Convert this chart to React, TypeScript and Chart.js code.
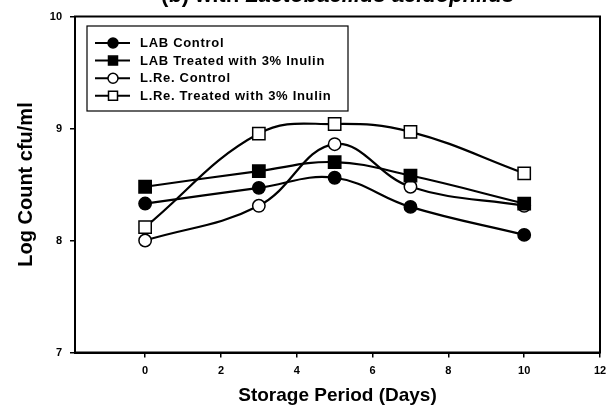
import React, { useEffect, useRef } from "react";
import { Chart, registerables } from "chart.js";
Chart.register(...registerables);

const days = [0, 3, 5, 7, 10];
const labControl = [8.33, 8.47, 8.56, 8.3, 8.05];
const labInulin = [8.48, 8.62, 8.7, 8.58, 8.33];
const lreControl = [8.0, 8.31, 8.86, 8.48, 8.31];
const lreInulin = [8.12, 8.955, 9.04, 8.97, 8.6];
const seriesNames = [
  "LAB Control",
  "LAB Treated with 3% Inulin",
  "L.Re. Control",
  "L.Re. Treated with 3% Inulin",
];
const xTicks = [0, 2, 4, 6, 8, 10, 12];
const yTicks = [7, 8, 9, 10];
const titleA = "(b) with ";
const titleB = "Lactobacillus acidophilus";
const xTitle = "Storage Period (Days)";
const yTitle = "Log Count cfu/ml";

const FONT = "'Liberation Sans', Arial, Helvetica, sans-serif";

type Style = { shape: "circle" | "rect"; fill: string };
const styles: Style[] = [
  { shape: "circle", fill: "#000" },
  { shape: "rect", fill: "#000" },
  { shape: "circle", fill: "#fff" },
  { shape: "rect", fill: "#fff" },
];

function drawMarker(ctx: CanvasRenderingContext2D, s: Style, x: number, y: number, r: number) {
  ctx.beginPath();
  if (s.shape === "circle") ctx.arc(x, y, r, 0, Math.PI * 2);
  else ctx.rect(x - r, y - r, 2 * r, 2 * r);
  ctx.fillStyle = s.fill;
  ctx.fill();
  ctx.lineWidth = 1.5;
  ctx.strokeStyle = "#000";
  ctx.stroke();
}

const framePlugin = {
  id: "frame",
  afterDraw(chart: any) {
    const { ctx, chartArea: a } = chart;
    ctx.save();
    ctx.strokeStyle = "#000";
    ctx.lineWidth = 2;
    ctx.strokeRect(a.left, a.top, a.right - a.left, a.bottom - a.top);
    // title (partially cut at top of the picture)
    ctx.fillStyle = "#000";
    ctx.textBaseline = "alphabetic";
    ctx.font = `bold 22px ${FONT}`;
    const wA = ctx.measureText(titleA).width;
    ctx.font = `italic bold 22px ${FONT}`;
    const wB = ctx.measureText(titleB).width;
    const cx = (a.left + a.right) / 2;
    const x0 = cx - (wA + wB) / 2;
    ctx.font = `bold 22px ${FONT}`;
    ctx.fillText(titleA, x0, 2);
    ctx.font = `italic bold 22px ${FONT}`;
    ctx.fillText(titleB, x0 + wA, 2);
    // legend
    const bx = a.left + 12;
    const by = a.top + 9.5;
    const bw = 261;
    const bh = 85;
    ctx.lineWidth = 1.2;
    ctx.strokeRect(bx, by, bw, bh);
    ctx.font = `bold 13px ${FONT}`;
    (ctx as any).letterSpacing = "0.7px";
    ctx.textBaseline = "middle";
    seriesNames.forEach((name, i) => {
      const y = by + 17 + i * 17.6;
      ctx.beginPath();
      ctx.moveTo(bx + 8, y);
      ctx.lineTo(bx + 43, y);
      ctx.lineWidth = 2;
      ctx.strokeStyle = "#000";
      ctx.stroke();
      drawMarker(ctx, styles[i], bx + 26, y, styles[i].shape === "circle" ? 5 : 4.5);
      ctx.fillStyle = "#000";
      ctx.fillText(name, bx + 53, y + 0.5);
    });
    ctx.restore();
  },
};

export default function App() {
  const ref = useRef<HTMLCanvasElement>(null);
  useEffect(() => {
    document.body.style.margin = "0";
    const all = [labControl, labInulin, lreControl, lreInulin];
    const chart = new Chart(ref.current!, {
      type: "line",
      data: {
        datasets: all.map((vals, i) => ({
          label: seriesNames[i],
          data: days.map((d, j) => ({ x: d, y: vals[j] })),
          borderColor: "#000",
          borderWidth: 2.2,
          tension: 0.4,
          pointStyle: styles[i].shape,
          pointRadius: styles[i].shape === "circle" ? 6.2 : 8.7,
          pointBackgroundColor: styles[i].fill,
          pointBorderColor: "#000",
          pointBorderWidth: 1.5,
          fill: false,
        })),
      },
      options: {
        animation: false,
        responsive: true,
        maintainAspectRatio: false,
        layout: { autoPadding: false, padding: { left: 10, top: 16.5, right: 8, bottom: 0 } },
        plugins: { legend: { display: false }, tooltip: { enabled: false }, title: { display: false } },
        scales: {
          x: {
            type: "linear",
            min: -1.85,
            max: 12,
            afterBuildTicks: (s: any) => {
              s.ticks = xTicks.map((v) => ({ value: v }));
            },
            afterFit: (s: any) => {
              s.height = 56.5;
              s.paddingLeft = 0;
              s.paddingRight = 0;
            },
            ticks: { color: "#000", font: { family: FONT, size: 11, weight: "bold" }, padding: 7, maxRotation: 0 },
            grid: { display: true, drawOnChartArea: false, drawTicks: true, tickLength: 5, color: "#000", lineWidth: 1.5 },
            border: { display: true, color: "#000", width: 2 },
            title: { display: true, text: xTitle, color: "#000", font: { family: FONT, size: 19, weight: "bold" }, padding: { top: 2, bottom: 2 } },
          },
          y: {
            type: "linear",
            min: 7,
            max: 10,
            afterBuildTicks: (s: any) => {
              s.ticks = yTicks.map((v) => ({ value: v }));
            },
            afterFit: (s: any) => {
              s.width = 65;
              s.paddingTop = 0;
              s.paddingBottom = 0;
            },
            ticks: { color: "#000", font: { family: FONT, size: 11, weight: "bold" }, padding: 8 },
            grid: { display: true, drawOnChartArea: false, drawTicks: true, tickLength: 5, color: "#000", lineWidth: 1.5 },
            border: { display: true, color: "#000", width: 2 },
            title: { display: true, text: yTitle, color: "#000", font: { family: FONT, size: 20, weight: "bold" }, padding: { top: 4, bottom: 4 } },
          },
        },
      },
      plugins: [framePlugin],
    } as any);
    return () => chart.destroy();
  }, []);
  return (
    <div style={{ position: "fixed", left: 0, top: 0, width: 608, height: 409, background: "#fff" }}>
      <canvas ref={ref} />
    </div>
  );
}
